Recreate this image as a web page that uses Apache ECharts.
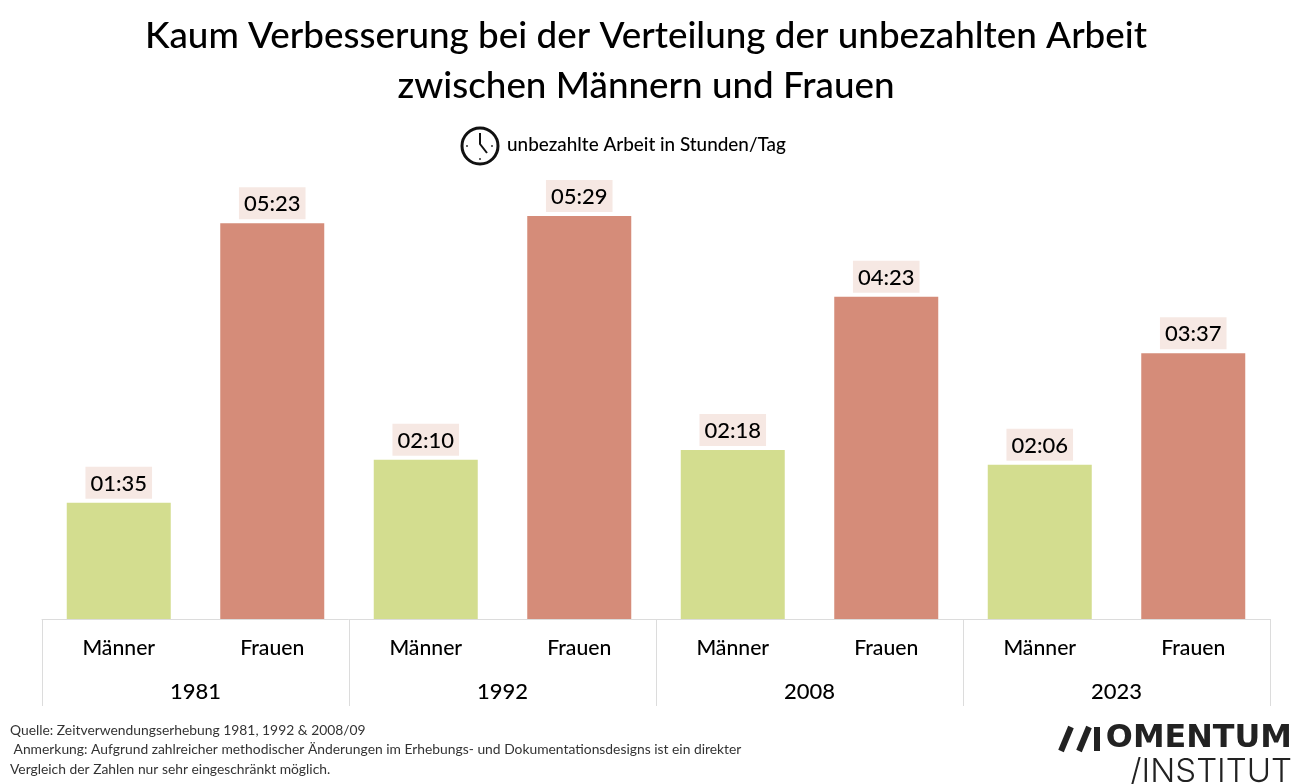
<!DOCTYPE html>
<html><head><meta charset="utf-8">
<style>html,body{margin:0;padding:0;background:#fff}#c{width:1292px;height:784px}</style>
<script src="https://cdn.jsdelivr.net/npm/echarts@6/dist/echarts.min.js"></script></head>
<body><div id="c"></div>
<script>
const years = ['1981','1992','2008','2023'];
const groups = ['Männer','Frauen','Männer','Frauen','Männer','Frauen','Männer','Frauen'];
const minutes = [95,323,130,329,138,263,126,217];
const barColors = ['#d3dd8f','#d58c79'];
const titleText = 'Kaum Verbesserung bei der Verteilung der unbezahlten Arbeit\nzwischen Männern und Frauen';
const subtitleText = 'unbezahlte Arbeit in Stunden/Tag';
const notes = ['Quelle: Zeitverwendungserhebung 1981, 1992 & 2008/09',' Anmerkung: Aufgrund zahlreicher methodischer Änderungen im Erhebungs- und Dokumentationsdesigns ist ein direkter','Vergleich der Zahlen nur sehr eingeschränkt möglich.'];
const FONT = 'Lato';
const hhmm = m => String(Math.floor(m/60)).padStart(2,'0')+':'+String(m%60).padStart(2,'0');
const dots = [[467,146],[492,146],[480,159]];
const chart = echarts.init(document.getElementById('c'),null,{renderer:'canvas'});
chart.setOption({
  animation:false,
  backgroundColor:'#fff',
  title:{text:titleText,left:641,top:6.5,textAlign:'center',textStyle:{fontFamily:FONT,fontSize:36.8,fontWeight:500,color:'#000',lineHeight:50}},
  grid:{left:42,right:22,top:178,bottom:165},
  xAxis:[
    {type:'category',data:groups,position:'bottom',axisLine:{show:false},axisTick:{show:false},
     axisLabel:{fontFamily:FONT,fontSize:21.2,fontWeight:500,color:'#000',margin:19}},
    {type:'category',data:years,position:'bottom',axisLine:{show:true,lineStyle:{color:'#dcdcdc',width:1}},
     axisTick:{show:true,length:87,lineStyle:{color:'#dcdcdc',width:1}},
     axisLabel:{fontFamily:FONT,fontSize:22,fontWeight:500,color:'#000',margin:62}}
  ],
  yAxis:{type:'value',min:0,max:360,show:false,splitLine:{show:false}},
  series:[{type:'bar',xAxisIndex:0,barWidth:104,
    data:minutes.map((v,i)=>({value:v,itemStyle:{color:barColors[i%2]}})),
    label:{show:true,position:'top',distance:4,formatter:p=>hhmm(p.value),fontFamily:FONT,fontSize:22,fontWeight:500,color:'#000',backgroundColor:'#f6e8e3',padding:[6,5,4,5]}}],
  graphic:[
    {type:'circle',shape:{cx:480,cy:146,r:18},style:{fill:'#fff',stroke:'#111',lineWidth:3}},
    {type:'polyline',shape:{points:[[480,133],[480,144],[487,153]]},style:{fill:'none',stroke:'#111',lineWidth:2}},
    ...dots.map(d=>({type:'circle',shape:{cx:d[0],cy:d[1],r:1},style:{fill:'#333'}})),
    {type:'text',x:507,y:145,style:{text:subtitleText,fontFamily:FONT,fontSize:18.9,fontWeight:500,fill:'#000',verticalAlign:'middle'}},
    ...notes.map((t,i)=>({type:'text',x:10,y:730.5+i*19.5,style:{text:t,fontFamily:FONT,fontSize:13.85,fill:'#333',verticalAlign:'middle'}})),
    {type:'line',shape:{x1:1061,y1:751,x2:1071,y2:727},style:{stroke:'#222',lineWidth:6}},
    {type:'line',shape:{x1:1079,y1:751,x2:1089,y2:727},style:{stroke:'#222',lineWidth:6}},
    {type:'line',shape:{x1:1097,y1:727,x2:1097,y2:751},style:{stroke:'#222',lineWidth:6}},
    {type:'text',x:1292,y:739,style:{text:'OMENTUM',align:'right',verticalAlign:'middle',fontFamily:'DejaVu Sans',fontSize:31.8,fontWeight:700,fill:'#222'}},
    {type:'text',x:1292,y:772,style:{text:'/INSTITUT',align:'right',verticalAlign:'middle',fontFamily:'Inter',fontSize:33,fontWeight:300,fill:'#222'}}
  ]
});
</script></body></html>
